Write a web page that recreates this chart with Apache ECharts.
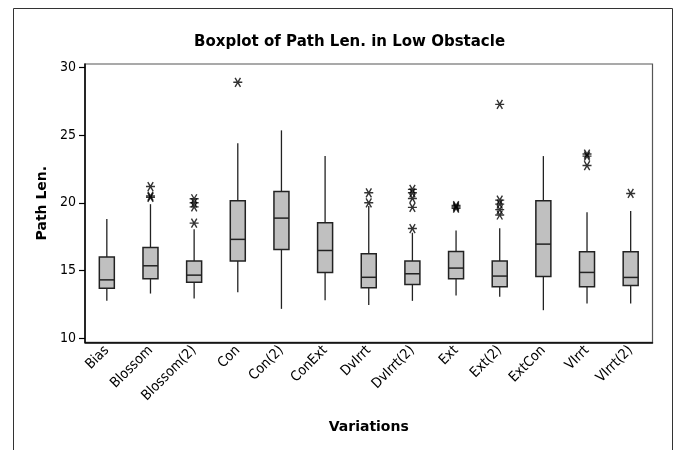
<!DOCTYPE html>
<html><head><meta charset="utf-8">
<script src="https://cdn.jsdelivr.net/npm/echarts@6/dist/echarts.min.js"></script>
<style>html,body{margin:0;padding:0;background:#fff}#c{width:684px;height:450px}</style>
</head><body><div id="c"></div>
<script>
const categories = ['Bias','Blossom','Blossom(2)','Con','Con(2)','ConExt','DvIrrt','DvIrrt(2)','Ext','Ext(2)','ExtCon','VIrrt','VIrrt(2)'];
const mins = [12.76,13.3,12.94,13.4,12.17,12.8,12.45,12.76,13.16,13.06,12.07,12.57,12.57];
const q1s  = [13.7,14.4,14.14,15.7,16.56,14.86,13.73,13.97,14.4,13.8,14.56,13.8,13.9];
const meds = [14.31,15.35,14.66,17.3,18.87,16.48,14.5,14.76,15.18,14.59,16.95,14.86,14.49];
const q3s  = [16.0,16.7,15.7,20.15,20.84,18.52,16.24,15.7,16.41,15.7,20.15,16.38,16.38];
const maxs = [18.8,19.9,18.04,24.4,25.35,23.45,19.76,17.79,17.96,18.13,23.45,19.31,19.39];
const outliers = [
  [], [21.2,20.5,20.4], [20.3,20.0,19.7,18.5], [28.9], [], [], [20.74,20.0],
  [20.99,20.74,20.32,19.66,18.1], [19.8,19.7,19.6], [27.27,20.2,19.9,19.5,19.1], [],
  [23.6,23.45,22.75], [20.69]
];
const yTicks = [10,15,20,25,30];

const boxData = categories.map((c,i)=>[i,mins[i],q1s[i],meds[i],q3s[i],maxs[i]]);
const outData = [];
outliers.forEach((arr,i)=>arr.forEach(v=>outData.push([i,v])));

const FONT = 'DejaVu Sans Condensed';
const BFONT = 'DejaVu Sans';
const chart = echarts.init(document.getElementById('c'));
chart.setOption({
  animation:false,
  backgroundColor:'#fff',
  title:{text:'Boxplot of Path Len. in Low Obstacle',left:189,top:30,
    textStyle:{fontFamily:BFONT,fontSize:15,fontWeight:'bold',color:'#000'}},
  graphic:[{type:'rect',shape:{x:13.5,y:8.5,width:659,height:470},
    style:{fill:'none',stroke:'#333',lineWidth:1},silent:true}],
  grid:{left:85,right:31.5,top:64,bottom:107.7,show:true,borderColor:'#555',borderWidth:1.2,containLabel:false},
  xAxis:{type:'category',data:categories,boundaryGap:true,
    name:'Variations',nameLocation:'middle',nameGap:78,
    nameTextStyle:{fontFamily:BFONT,fontSize:14,fontWeight:'bold',color:'#000'},
    axisLine:{lineStyle:{color:'#000',width:1.5}},
    axisTick:{alignWithLabel:true,length:5,lineStyle:{color:'#000',width:1.2}},
    axisLabel:{rotate:45,fontFamily:FONT,fontSize:14,color:'#000',margin:6,interval:0},
    splitLine:{show:false}},
  yAxis:{type:'value',min:9.7,max:30.25,
    name:'Path Len.',nameLocation:'middle',nameGap:36,
    nameTextStyle:{fontFamily:BFONT,fontSize:14,fontWeight:'bold',color:'#000'},
    axisLine:{show:true,lineStyle:{color:'#000',width:1.5}},
    axisTick:{show:true,length:6,lineStyle:{color:'#000',width:1.2},customValues:yTicks},
    axisLabel:{fontFamily:FONT,fontSize:14,color:'#000',margin:9,customValues:yTicks},
    splitLine:{show:false}},
  series:[{
    type:'custom',
    data:boxData,
    encode:{x:0,y:[1,2,3,4,5]},
    renderItem:function(params,api){
      const i=api.value(0);
      const x=api.coord([i,0])[0];
      const yMin=api.coord([i,api.value(1)])[1];
      const yQ1=api.coord([i,api.value(2)])[1];
      const yMed=api.coord([i,api.value(3)])[1];
      const yQ3=api.coord([i,api.value(4)])[1];
      const yMax=api.coord([i,api.value(5)])[1];
      const hw=7.5;
      const ls={stroke:'#222',lineWidth:1.3};
      return {type:'group',children:[
        {type:'line',shape:{x1:x,y1:yMin,x2:x,y2:yQ1},style:ls},
        {type:'line',shape:{x1:x,y1:yQ3,x2:x,y2:yMax},style:ls},
        {type:'rect',shape:{x:x-hw,y:yQ3,width:2*hw,height:yQ1-yQ3},style:{fill:'#c0c0c0',stroke:'#222',lineWidth:1.5}},
        {type:'line',shape:{x1:x-hw,y1:yMed,x2:x+hw,y2:yMed},style:{stroke:'#222',lineWidth:1.5}}
      ]};
    }
  },{
    type:'scatter',
    data:outData,
    symbol:'path://M-4,0L4,0M-2.4,-4L2.4,4M-2.4,4L2.4,-4',
    symbolSize:[9,9],
    itemStyle:{color:'none',borderColor:'#000',borderWidth:1.4},
    z:5
  }]
});
</script></body></html>
